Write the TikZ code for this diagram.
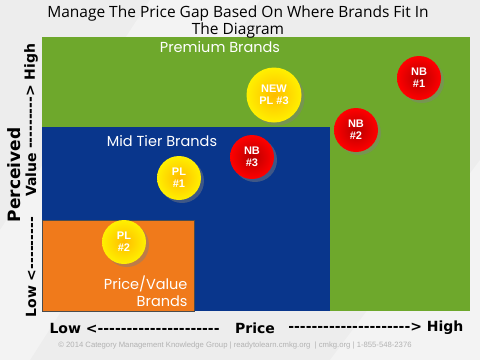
\documentclass[tikz,border=0pt]{standalone}
\usepackage{fontspec}
\setmainfont{DejaVu Sans}
\newfontfamily\titlefont{Open Sans}
\newfontfamily\thinfont{Poppins}
\newfontfamily\ballfont{Liberation Sans}
\usetikzlibrary{shadows}

\definecolor{premium}{HTML}{6EA82C}
\definecolor{midtier}{HTML}{09368C}
\definecolor{pricevalue}{HTML}{F07A1B}
\definecolor{backgr}{HTML}{EDEDED}

\tikzstyle{nb}=[circle,inner color=red!72!black,outer color=red,minimum size=44pt,inner sep=0pt,
  text=white,font=\ballfont\bfseries\fontsize{11}{12}\selectfont,align=center,
  drop shadow={shadow xshift=3pt,shadow yshift=-3pt,opacity=0.45}]
\tikzstyle{pl}=[nb,inner color={rgb,255:red,255;green,188;blue,0},outer color={rgb,255:red,255;green,240;blue,0}]
\tikzstyle{zone}=[font=\thinfont\fontsize{14.5}{17}\selectfont,text=white]
\tikzstyle{axis}=[font=\bfseries\fontsize{14}{16}\selectfont]

\begin{document}
\begin{tikzpicture}[x=1pt,y=-1pt]
    %Background
    \fill[backgr] (0,0) rectangle (480,360);
    \fill[white,opacity=0.35] (150,0) -- (260,0) -- (30,360) -- (0,360) -- (0,230) -- cycle;
    \fill[white,opacity=0.35] (330,360) -- (480,160) -- (480,360) -- cycle;
    \useasboundingbox (0,0) rectangle (480,360);
    %Zones
    \fill[premium] (42,37) rectangle (470,311);
    \fill[midtier] (42,127) rectangle (330,311);
    \filldraw[fill=pricevalue,draw=black!70,line width=1pt] (42,220) rectangle (194,311);
    \node[zone] (premiumlbl) at (220,47) {Premium Brands};
    \node[zone] (midlbl) at (162,141) {Mid Tier Brands};
    \node[zone,align=right,anchor=east] (pvlbl) at (191,291) {Price/Value\\Brands};
    %Title
    \node[font=\titlefont\fontsize{15.5}{14.5}\selectfont,align=center] (title) at (238,22)
      {Manage The Price Gap Based On Where Brands Fit In\\The Diagram};
    %Brands
    \foreach \pos/\name/\txt in {{(419,78)/nb1/NB\\\#1}, {(356,130)/nb2/NB\\\#2}, {(252,157)/nb3/NB\\\#3}}
    \node[nb] (\name) at \pos {\txt};
    \foreach \pos/\name/\txt in {{(179,178)/pl1/PL\\\#1}, {(124,242)/pl2/PL\\\#2}}
    \node[pl] (\name) at \pos {\txt};
    \node[pl,minimum size=55pt] (pl3) at (274,95) {NEW\\PL \#3};
    %Axes
    \node[axis,anchor=west] (xlow) at (46,328) {Low <-{}-{}-{}-{}-{}-{}-{}-{}-{}-{}-{}-{}-{}-{}-{}-{}-{}-{}-{}-{}-};
    \node[axis] (xprice) at (255,328) {Price};
    \node[axis,anchor=east] (xhigh) at (467,328) {-{}-{}-{}-{}-{}-{}-{}-{}-{}-{}-{}-{}-{}-{}-{}-{}-{}-{}-{}-{}-{}> High};
    \node[axis,rotate=90,anchor=west] (ylow) at (31,321) {Low <-{}-{}-{}-{}-{}-{}-{}-{}-};
    \node[axis,rotate=90] (yvalue) at (31,175) {Value};
    \node[axis,rotate=90,anchor=east] (yhigh) at (31,40) {-{}-{}-{}-{}-{}-{}-{}-{}-{}> High};
    \node[font=\bfseries\fontsize{17}{18}\selectfont,rotate=90] (perceived) at (14,175) {Perceived};
    %Footer
    \node[font=\ballfont\fontsize{7.7}{8}\selectfont,text=black!30] (footer) at (235,346)
      {\copyright{} 2014 Category Management Knowledge Group | readytolearn.cmkg.org \ | cmkg.org | 1-855-548-2376};
\end{tikzpicture}
\end{document}
